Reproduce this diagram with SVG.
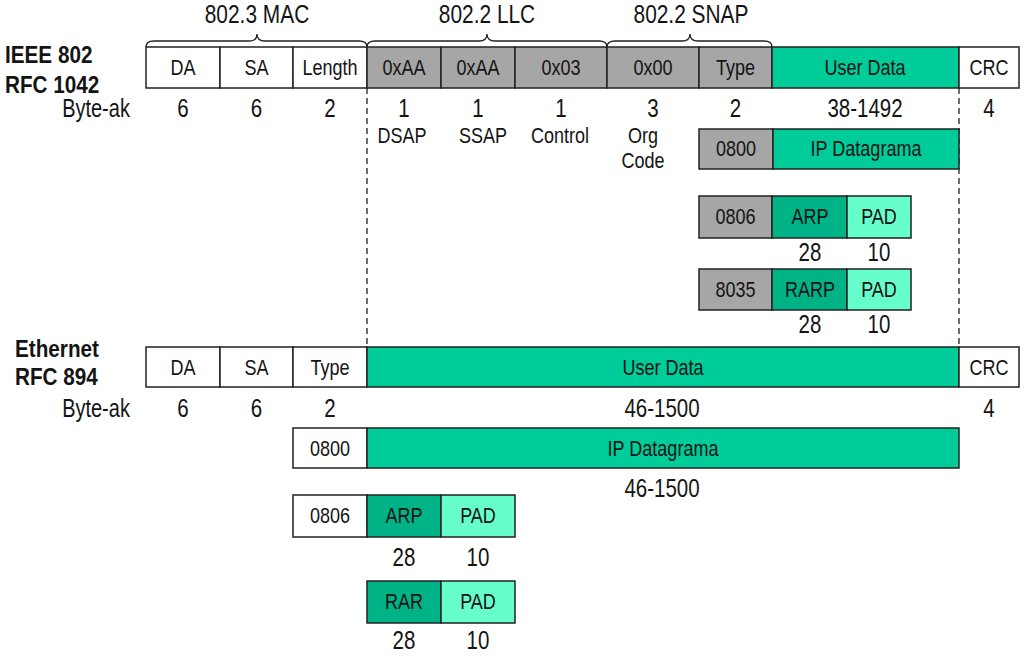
<svg xmlns="http://www.w3.org/2000/svg" width="1024" height="656" viewBox="0 0 1024 656">
<style>
text{font-family:"Liberation Sans",Arial,sans-serif;fill:#141414;text-anchor:middle}
.b{font-size:22px}
.n{font-size:25px}
.h{font-size:25.5px}
.t{font-weight:bold;font-size:23px;text-anchor:start}
.w{fill:#fff;stroke:#222;stroke-width:1.5}
.g{fill:#a6a6a6;stroke:#222;stroke-width:1.5}
.u{fill:#00cc99;stroke:#222;stroke-width:1.5}
.a{fill:#00b386;stroke:#222;stroke-width:1.5}
.p{fill:#66ffcc;stroke:#222;stroke-width:1.5}
.br{fill:none;stroke:#222;stroke-width:1.3}
.d{stroke:#222;stroke-width:1.3;stroke-dasharray:6,4;fill:none}
</style>
<rect width="1024" height="656" fill="#fff"/>
<g id="connectors">
<line class="d" x1="367" y1="88" x2="367" y2="347"/>
<line class="d" x1="959" y1="88" x2="959" y2="347"/>
</g>
<g id="headers">
<path class="br" d="M146,47 Q146,41 154,41 L249,41 Q257,41 257,34 Q257,41 265,41 L359,41 Q367,41 367,47"/>
<path class="br" d="M367,47 Q367,41 375,41 L479,41 Q487,41 487,34 Q487,41 495,41 L599,41 Q607,41 607,47"/>
<path class="br" d="M607,47 Q607,41 615,41 L682,41 Q690,41 690,34 Q690,41 698,41 L764,41 Q772,41 772,47"/>
<text class="h" transform="translate(257,23) scale(.82,1)">802.3 MAC</text>
<text class="h" transform="translate(487,23) scale(.82,1)">802.2 LLC</text>
<text class="h" transform="translate(691,23) scale(.82,1)">802.2 SNAP</text>
</g>
<g id="ieee-label">
<text class="t" transform="translate(5,63) scale(.9,1)">IEEE 802</text>
<text class="t" transform="translate(5,93) scale(.9,1)">RFC 1042</text>
</g>
<g id="ieee-frame">
<rect class="w" x="146" y="47" width="74" height="41"/><text class="b" transform="translate(183,75) scale(.82,1)">DA</text>
<rect class="w" x="220" y="47" width="73" height="41"/><text class="b" transform="translate(256.5,75) scale(.82,1)">SA</text>
<rect class="w" x="293" y="47" width="74" height="41"/><text class="b" transform="translate(330,75) scale(.82,1)">Length</text>
<rect class="g" x="367" y="47" width="74" height="41"/><text class="b" transform="translate(404,75) scale(.82,1)">0xAA</text>
<rect class="g" x="441" y="47" width="74" height="41"/><text class="b" transform="translate(478,75) scale(.82,1)">0xAA</text>
<rect class="g" x="515" y="47" width="92" height="41"/><text class="b" transform="translate(561,75) scale(.82,1)">0x03</text>
<rect class="g" x="607" y="47" width="92" height="41"/><text class="b" transform="translate(653,75) scale(.82,1)">0x00</text>
<rect class="g" x="699" y="47" width="73" height="41"/><text class="b" transform="translate(735.5,75) scale(.82,1)">Type</text>
<rect class="u" x="772" y="47" width="187" height="41"/><text class="b" transform="translate(865,75) scale(.82,1)">User Data</text>
<rect class="w" x="959" y="47" width="60" height="41"/><text class="b" transform="translate(989,75) scale(.82,1)">CRC</text>
</g>
<g id="ieee-bytes">
<text class="n" transform="translate(96,117) scale(.8,1)">Byte-ak</text>
<text class="n" transform="translate(183,117) scale(.82,1)">6</text>
<text class="n" transform="translate(256.5,117) scale(.82,1)">6</text>
<text class="n" transform="translate(330,117) scale(.82,1)">2</text>
<text class="n" transform="translate(404,117) scale(.82,1)">1</text>
<text class="n" transform="translate(478,117) scale(.82,1)">1</text>
<text class="n" transform="translate(561,117) scale(.82,1)">1</text>
<text class="n" transform="translate(653,117) scale(.82,1)">3</text>
<text class="n" transform="translate(735.5,117) scale(.82,1)">2</text>
<text class="n" transform="translate(865,117) scale(.82,1)">38-1492</text>
<text class="n" transform="translate(989,117) scale(.82,1)">4</text>
<text class="b" transform="translate(402,143) scale(.82,1)">DSAP</text>
<text class="b" transform="translate(483,143) scale(.82,1)">SSAP</text>
<text class="b" transform="translate(560,143) scale(.82,1)">Control</text>
<text class="b" transform="translate(643,143) scale(.82,1)">Org</text>
<text class="b" transform="translate(643,168) scale(.82,1)">Code</text>
</g>
<g id="ieee-ip">
<rect class="g" x="699" y="129" width="74" height="40"/><text class="b" transform="translate(736,156) scale(.82,1)">0800</text>
<rect class="u" x="773" y="129" width="186" height="40"/><text class="b" transform="translate(866,156) scale(.82,1)">IP Datagrama</text>
</g>
<g id="ieee-arp">
<rect class="g" x="699" y="196" width="73" height="42"/><text class="b" transform="translate(735.5,224) scale(.82,1)">0806</text>
<rect class="a" x="772" y="196" width="75" height="42"/><text class="b" transform="translate(810,224) scale(.82,1)">ARP</text>
<rect class="p" x="847" y="196" width="64" height="42"/><text class="b" transform="translate(879,224) scale(.82,1)">PAD</text>
<text class="n" transform="translate(810,261) scale(.82,1)">28</text>
<text class="n" transform="translate(879,261) scale(.82,1)">10</text>
</g>
<g id="ieee-rarp">
<rect class="g" x="699" y="269" width="73" height="41"/><text class="b" transform="translate(735.5,297) scale(.82,1)">8035</text>
<rect class="a" x="772" y="269" width="75" height="41"/><text class="b" transform="translate(810,297) scale(.82,1)">RARP</text>
<rect class="p" x="847" y="269" width="64" height="41"/><text class="b" transform="translate(879,297) scale(.82,1)">PAD</text>
<text class="n" transform="translate(810,333) scale(.82,1)">28</text>
<text class="n" transform="translate(879,333) scale(.82,1)">10</text>
</g>
<g id="eth-label">
<text class="t" transform="translate(15,357) scale(.9,1)">Ethernet</text>
<text class="t" transform="translate(15,385) scale(.9,1)">RFC 894</text>
</g>
<g id="eth-frame">
<rect class="w" x="146" y="347" width="74" height="40"/><text class="b" transform="translate(183,375) scale(.82,1)">DA</text>
<rect class="w" x="220" y="347" width="73" height="40"/><text class="b" transform="translate(256.5,375) scale(.82,1)">SA</text>
<rect class="w" x="293" y="347" width="74" height="40"/><text class="b" transform="translate(330,375) scale(.82,1)">Type</text>
<rect class="u" x="367" y="347" width="592" height="40"/><text class="b" transform="translate(663,375) scale(.82,1)">User Data</text>
<rect class="w" x="959" y="347" width="60" height="40"/><text class="b" transform="translate(989,375) scale(.82,1)">CRC</text>
</g>
<g id="eth-bytes">
<text class="n" transform="translate(96,417) scale(.8,1)">Byte-ak</text>
<text class="n" transform="translate(183,417) scale(.82,1)">6</text>
<text class="n" transform="translate(256.5,417) scale(.82,1)">6</text>
<text class="n" transform="translate(330,417) scale(.82,1)">2</text>
<text class="n" transform="translate(662,417) scale(.82,1)">46-1500</text>
<text class="n" transform="translate(989,417) scale(.82,1)">4</text>
</g>
<g id="eth-ip">
<rect class="w" x="293" y="428" width="74" height="40"/><text class="b" transform="translate(330,456) scale(.82,1)">0800</text>
<rect class="u" x="367" y="428" width="592" height="40"/><text class="b" transform="translate(663,456) scale(.82,1)">IP Datagrama</text>
<text class="n" transform="translate(662,497) scale(.82,1)">46-1500</text>
</g>
<g id="eth-arp">
<rect class="w" x="293" y="495" width="74" height="42"/><text class="b" transform="translate(330,523) scale(.82,1)">0806</text>
<rect class="a" x="367" y="495" width="74" height="42"/><text class="b" transform="translate(404,523) scale(.82,1)">ARP</text>
<rect class="p" x="441" y="495" width="74" height="42"/><text class="b" transform="translate(478,523) scale(.82,1)">PAD</text>
<text class="n" transform="translate(404,566) scale(.82,1)">28</text>
<text class="n" transform="translate(478,566) scale(.82,1)">10</text>
</g>
<g id="eth-rarp">
<rect class="a" x="367" y="581" width="74" height="42"/><text class="b" transform="translate(404,609) scale(.82,1)">RAR</text>
<rect class="p" x="441" y="581" width="74" height="42"/><text class="b" transform="translate(478,609) scale(.82,1)">PAD</text>
<text class="n" transform="translate(404,649) scale(.82,1)">28</text>
<text class="n" transform="translate(478,649) scale(.82,1)">10</text>
</g>
</svg>
